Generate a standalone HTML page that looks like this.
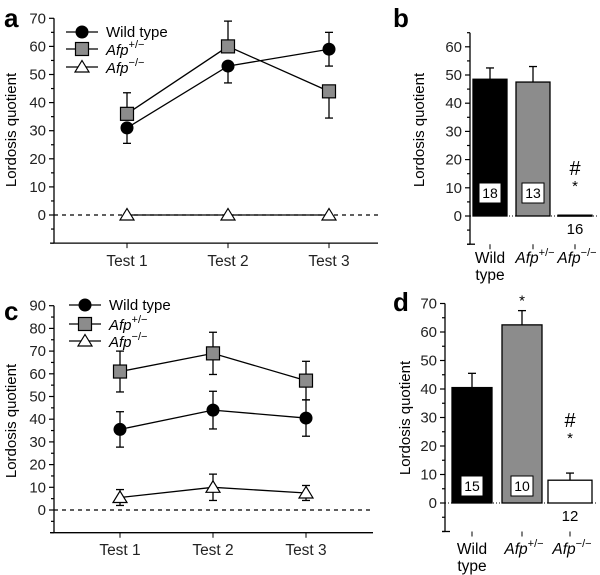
<!DOCTYPE html>
<html><head><meta charset="utf-8"><style>
body{margin:0;background:#fff}
svg{display:block;font-family:"Liberation Sans",sans-serif}
</style></head><body>
<svg id="fig" width="600" height="575" viewBox="0 0 600 575"></svg>
<script>
// Panel a data
const testsA = ["Test 1","Test 2","Test 3"];
const wtA = [31,53,59];
const wtErrA = [5.5,6,6];
const hetA = [36,60,44];
const hetErrA = [7.5,9,9.5];
const koA = [0,0,0];
const koErrA = [0,0,0];
const ticksA = [0,10,20,30,40,50,60,70];
// Panel b data
const catsB = ["Wild type","Afp+/-","Afp-/-"];
const valsB = [48.5,47.5,0.3];
const errB = [4,5.5,0];
const nB = ["18","13","16"];
const ticksB = [0,10,20,30,40,50,60];
// Panel c data
const testsC = ["Test 1","Test 2","Test 3"];
const wtC = [35.5,44,40.5];
const wtErrC = [7.8,8.3,8];
const hetC = [61,69,57];
const hetErrC = [9,9.3,8.5];
const koC = [5.5,10,7.5];
const koErrC = [3.5,5.8,3.3];
const ticksC = [0,10,20,30,40,50,60,70,80,90];
// Panel d data
const catsD = ["Wild type","Afp+/-","Afp-/-"];
const valsD = [40.5,62.5,8];
const errD = [5,5,2.5];
const nD = ["15","10","12"];
const ticksD = [0,10,20,30,40,50,60,70];

const NS="http://www.w3.org/2000/svg";
const svg=document.getElementById('fig');
function mk(tag,attrs,parent,text){const e=document.createElementNS(NS,tag);for(const k in attrs)e.setAttribute(k,attrs[k]);if(text!==undefined)e.textContent=text;(parent||svg).appendChild(e);return e;}

function letter(t,x,y){const e=mk('text',{x:x,y:y,'font-size':26,'font-weight':'bold'},svg,t);

}

function afpText(parent,x,y,sup,anchor,fs){
  const t=mk('text',{x:x,y:y,'font-size':fs||14,'text-anchor':anchor||'start'},parent);
  mk('tspan',{'font-style':'italic'},t,'Afp');
  mk('tspan',{'font-size':11,dy:-7},t,sup);
  return t;
}

function yAxis(g,ax,y0,pxPer,ticks,ymin,ymax,titleX,titleY){
  const Y=v=>y0-v*pxPer;
  mk('line',{x1:ax,x2:ax,y1:Y(ymax),y2:Y(ymin),stroke:'#000','stroke-width':1.3},g);
  for(let v=ymin;v<=ymax;v+=5){const major=ticks.includes(v);
    mk('line',{x1:ax-(major?5:3),x2:ax,y1:Y(v),y2:Y(v),stroke:'#000','stroke-width':1.2},g);}
  ticks.forEach(v=>{const t=mk('text',{x:ax-8,y:Y(v)+5,'font-size':15,'text-anchor':'end',fill:'#222'},g,v);
    
    });
  const tt=mk('text',{x:0,y:0,'font-size':15,'text-anchor':'middle',transform:`translate(${titleX},${titleY}) rotate(-90)`},g,'Lordosis quotient');
  
  
  return Y;
}

function marker(g,type,x,y){
  if(type==='c')return mk('circle',{cx:x,cy:y,r:6.5,fill:'#000'},g);
  if(type==='s')return mk('rect',{x:x-6.5,y:y-6.5,width:13,height:13,fill:'#8c8c8c',stroke:'#000','stroke-width':1.2},g);
  return mk('polygon',{points:`${x},${y-6.5} ${x+7},${y+5} ${x-7},${y+5}`,fill:'#fff',stroke:'#000','stroke-width':1.2},g);
}

function linePanel(name,cfg){
  const g=mk('g',{});
  
  
  const Y=yAxis(g,cfg.ax,cfg.y0,cfg.pp,cfg.ticks,cfg.ymin,cfg.ymax,cfg.titleX,cfg.titleY);
  const X=i=>cfg.xs[0]+i*(cfg.xs[1]-cfg.xs[0]);
  mk('line',{x1:cfg.ax-4,x2:cfg.xEnd,y1:Y(cfg.ymin),y2:Y(cfg.ymin),stroke:'#000','stroke-width':1.3},g);
  mk('line',{x1:cfg.ax,x2:cfg.xEnd,y1:Y(0),y2:Y(0),stroke:'#000','stroke-width':1.2,'stroke-dasharray':'4,4'},g);
  cfg.tests.forEach((t,i)=>{mk('line',{x1:X(i),x2:X(i),y1:Y(cfg.ymin),y2:Y(cfg.ymin)+5,stroke:'#000'},g);
    const l=mk('text',{x:X(i),y:cfg.labY,'font-size':15.5,'text-anchor':'middle',fill:'#222'},g,t);
    
    });
  cfg.series.forEach(s=>{
    const pts=s.v.map((v,i)=>`${X(i)},${Y(v)}`).join(' ');
    const pl=mk('polyline',{points:pts,fill:'none',stroke:'#000','stroke-width':1.3},g);
    
    
    s.v.forEach((v,i)=>{const e=s.e[i];if(!e)return;
      const dirs=s.dir[i];
      if(dirs.includes('u')){mk('line',{x1:X(i),x2:X(i),y1:Y(v),y2:Y(v+e),stroke:'#000','stroke-width':1.3},g);mk('line',{x1:X(i)-4,x2:X(i)+4,y1:Y(v+e),y2:Y(v+e),stroke:'#000','stroke-width':1.3},g);}
      if(dirs.includes('d')){mk('line',{x1:X(i),x2:X(i),y1:Y(v),y2:Y(v-e),stroke:'#000','stroke-width':1.3},g);mk('line',{x1:X(i)-4,x2:X(i)+4,y1:Y(v-e),y2:Y(v-e),stroke:'#000','stroke-width':1.3},g);}
    });
    s.v.forEach((v,i)=>{const m=marker(g,s.m,X(i),Y(v));
      
      });
  });
  const lg=mk('g',{},g);
  
  
  cfg.legY.forEach((ly,i)=>{
    mk('line',{x1:cfg.legX-16,x2:cfg.legX+16,y1:ly,y2:ly,stroke:'#000','stroke-width':1.3},lg);
    marker(lg,['c','s','t'][i],cfg.legX,ly);
    if(i===0)mk('text',{x:cfg.legX+24,y:ly+5,'font-size':15},lg,'Wild type');
    else afpText(lg,cfg.legX+24,ly+6,i===1?'+/\u2212':'\u2212/\u2212','start',15);
  });
}

function barPanel(name,cfg){
  const g=mk('g',{});
  
  
  const Y=yAxis(g,cfg.ax,cfg.y0,cfg.pp,cfg.ticks,cfg.ymin,cfg.ymax,cfg.titleX,cfg.titleY);
  mk('line',{x1:cfg.ax,x2:598,y1:Y(0),y2:Y(0),stroke:'#000','stroke-width':1,'stroke-dasharray':'1,2'},g);
  mk('line',{x1:cfg.ax-3,x2:cfg.ax+5,y1:Y(cfg.ymin),y2:Y(cfg.ymin),stroke:'#000','stroke-width':1.3},g);
  const fills=['#000','#8c8c8c','#fff'];
  cfg.vals.forEach((v,i)=>{
    const cx=cfg.cx[i],w=cfg.w[i];
    const e=cfg.err[i];
    if(e){mk('line',{x1:cx,x2:cx,y1:Y(v),y2:Y(v+e),stroke:'#000','stroke-width':1.3},g);
      mk('line',{x1:cx-4,x2:cx+4,y1:Y(v+e),y2:Y(v+e),stroke:'#000','stroke-width':1.3},g);}
    const b=mk('rect',{x:cx-w/2,y:Y(v),width:w,height:Math.max(Y(0)-Y(v),1),fill:fills[i],stroke:'#000','stroke-width':1.3},g);
    
    
    mk('line',{x1:cx,x2:cx,y1:Y(cfg.ymin),y2:Y(cfg.ymin)+5,stroke:'#000'},g);
    if(i<2){mk('rect',{x:cx-11,y:cfg.boxY-10,width:22,height:20,fill:'#fff',stroke:'#000','stroke-width':1},g);
      mk('text',{x:cx,y:cfg.boxY+5,'font-size':14,'text-anchor':'middle'},g,cfg.n[i]);}
    else mk('text',{x:cx,y:Y(0)+18,'font-size':15,'text-anchor':'middle'},g,cfg.n[i]);
  });
  const lx=cfg.cx;
  mk('text',{x:lx[0],y:cfg.labY,'font-size':15.5,'text-anchor':'middle'},g,'Wild');
  mk('text',{x:lx[0],y:cfg.labY+17,'font-size':15.5,'text-anchor':'middle'},g,'type');
  afpText(g,lx[1]+2,cfg.labY,'+/\u2212','middle',15.5);
  afpText(g,lx[2]+2,cfg.labY,'\u2212/\u2212','middle',15.5);
  const k=cfg.vals.length-1;
  const top=Y(cfg.vals[k]+cfg.err[k]);
  mk('text',{x:cfg.cx[k],y:top-6-cfg.gapK,'font-size':15,'text-anchor':'middle'},g,'*');
  mk('text',{x:cfg.cx[k],y:top-22-cfg.gapK,'font-size':20,'text-anchor':'middle'},g,'#');
  if(cfg.starHet){const t2=Y(cfg.vals[1]+cfg.err[1]);mk('text',{x:cfg.cx[1],y:t2-5,'font-size':15,'text-anchor':'middle'},g,'*');}
}

letter('a',4,27);letter('b',393,27);letter('c',4,320);letter('d',393,311);

linePanel('panel-a',{ax:54,y0:215,pp:2.81,ticks:ticksA,ymin:-10,ymax:70,titleX:16,titleY:130,
  xs:[127,228],xEnd:378,tests:testsA,labY:266,legX:82,legY:[32,49,67],
  series:[
   {name:'afp-ko',m:'t',v:koA,e:koErrA,dir:['','','']},
   {name:'wild-type',m:'c',v:wtA,e:wtErrA,dir:['d','d','ud']},
   {name:'afp-het',m:'s',v:hetA,e:hetErrA,dir:['u','u','d']}]});

barPanel('panel-b',{ax:470,y0:216,pp:2.82,ticks:ticksB,ymin:-10,ymax:65,titleX:424,titleY:130,
  cx:[490,533,575],w:[34,34,34],vals:valsB,err:errB,n:nB,boxY:193,labY:263,gapK:18,starHet:false});

linePanel('panel-c',{ax:54,y0:510,pp:2.27,ticks:ticksC,ymin:-10,ymax:90,titleX:16,titleY:421,
  xs:[120,213],xEnd:373,tests:testsC,labY:555,legX:85,legY:[305,324,341],
  series:[
   {name:'afp-ko',m:'t',v:koC,e:koErrC,dir:['ud','ud','ud']},
   {name:'wild-type',m:'c',v:wtC,e:wtErrC,dir:['ud','ud','ud']},
   {name:'afp-het',m:'s',v:hetC,e:hetErrC,dir:['ud','ud','ud']}]});

barPanel('panel-d',{ax:445,y0:503,pp:2.85,ticks:ticksD,ymin:-10,ymax:70,titleX:410,titleY:418,
  cx:[472,522,570],w:[40,40,44],vals:valsD,err:errD,n:nD,boxY:486,labY:554,gapK:24,starHet:true});
</script>
</body></html>
